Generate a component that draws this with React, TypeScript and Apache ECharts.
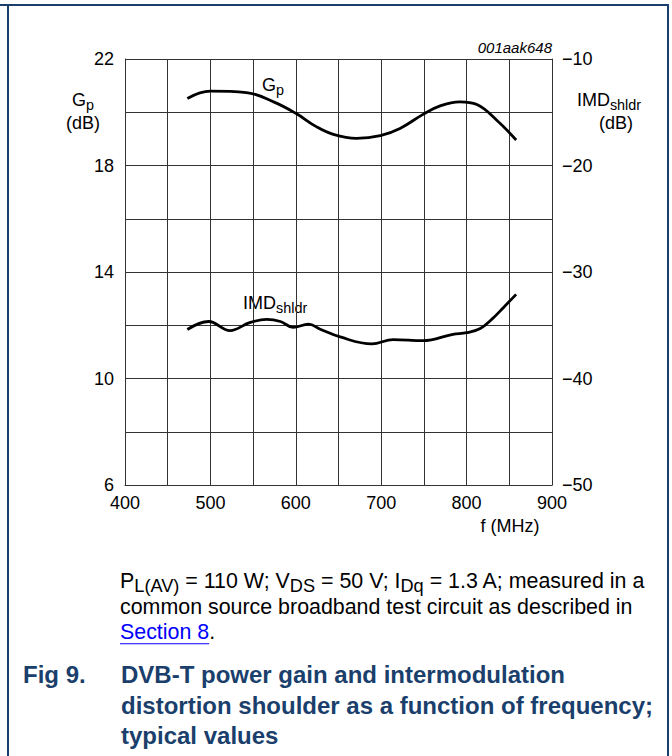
import React, { useEffect, useRef } from 'react';
import * as echarts from 'echarts';

// Gp (dB), left axis
const freqGp = [473, 500, 542, 574, 600, 624, 644, 671, 699, 722, 749, 769, 792, 812, 835, 858];
const gainGp = [20.52, 20.79, 20.74, 20.39, 19.96, 19.46, 19.17, 19.02, 19.12, 19.39, 19.92, 20.24, 20.39, 20.29, 19.71, 18.96];
// IMDshldr (dB), right axis
const freqImd = [473, 498, 523, 546, 566, 582, 597, 615, 628, 652, 689, 714, 749, 784, 800, 816, 830, 843, 858];
const imdVal = [-35.4, -34.65, -35.5, -34.75, -34.45, -34.65, -35.2, -34.9, -35.35, -36.1, -36.75, -36.35, -36.45, -35.85, -35.7, -35.3, -34.4, -33.35, -32.1];

const xTicks = [400, 500, 600, 700, 800, 900];
const leftTicks = [6, 10, 14, 18, 22];
const rightTicks = [-50, -40, -30, -20, -10];

const FONT = 'Liberation Sans';
const NAVY = '#1b3f6c';

type Part = { t: string; sub?: boolean; color?: string; underline?: boolean };

let ctx: CanvasRenderingContext2D | null = null;
function measure(text: string, size: number, weight = 'normal', style = 'normal') {
  if (!ctx) ctx = document.createElement('canvas').getContext('2d');
  ctx!.font = `${style} ${weight} ${size}px "${FONT}"`;
  return ctx!.measureText(text).width;
}

function richLine(
  parts: Part[],
  x: number,
  y: number,
  size: number,
  opts: { weight?: string; color?: string; center?: boolean; subRatio?: number; subShift?: number } = {}
) {
  const weight = opts.weight || 'normal';
  const color = opts.color || '#000';
  const subSize = size * (opts.subRatio || 0.8);
  const subShift = opts.subShift ?? 0.3;
  const widths = parts.map((p) => measure(p.t, p.sub ? subSize : size, weight));
  const total = widths.reduce((a, b) => a + b, 0);
  let cx = opts.center ? x - total / 2 : x;
  const els: any[] = [];
  parts.forEach((p, i) => {
    const fs = p.sub ? subSize : size;
    const py = p.sub ? y + size * subShift : y;
    els.push({
      type: 'text',
      x: cx,
      y: py,
      silent: true,
      style: {
        text: p.t,
        fontSize: fs,
        lineHeight: Math.round(fs * 0.95),
        fontFamily: FONT,
        fontWeight: weight,
        fill: p.color || color,
        align: 'left',
        verticalAlign: 'middle',
      },
    });
    if (p.underline) {
      els.push({
        type: 'line',
        silent: true,
        shape: { x1: cx, y1: y + size * 0.55, x2: cx + widths[i], y2: y + size * 0.55 },
        style: { stroke: p.color || color, lineWidth: 1.2 },
      });
    }
    cx += widths[i];
  });
  return els;
}

export default function App() {
  const ref = useRef<HTMLDivElement>(null);
  useEffect(() => {
    if (!ref.current) return;
    const chart = echarts.init(ref.current, undefined, { renderer: 'svg' });
    const gridColor = '#333333';
    const labelStyle = { color: '#000', fontSize: 18, fontFamily: FONT };

    const graphics: any[] = [
      // frame
      { type: 'line', silent: true, shape: { x1: 0, y1: 5, x2: 669, y2: 5 }, style: { stroke: NAVY, lineWidth: 2 } },
      { type: 'line', silent: true, shape: { x1: 8, y1: 5, x2: 8, y2: 756 }, style: { stroke: NAVY, lineWidth: 2 } },
      { type: 'line', silent: true, shape: { x1: 668, y1: 5, x2: 668, y2: 756 }, style: { stroke: NAVY, lineWidth: 2 } },
      {
        type: 'text', silent: true, x: 552, y: 47,
        style: { text: '001aak648', fontSize: 15, fontStyle: 'italic', fontFamily: FONT, fill: '#000', align: 'right', verticalAlign: 'middle' },
      },
      ...richLine([{ t: 'G' }, { t: 'p', sub: true }], 83, 100, 18, { center: true }),
      ...richLine([{ t: '(dB)' }], 83, 123, 18, { center: true }),
      ...richLine([{ t: 'IMD' }, { t: 'shldr', sub: true }], 609, 100, 18, { center: true }),
      ...richLine([{ t: '(dB)' }], 616, 123, 18, { center: true }),
      ...richLine([{ t: 'f (MHz)' }], 510, 526, 18, { center: true }),
      ...richLine([{ t: 'G' }, { t: 'p', sub: true }], 262, 85, 18),
      ...richLine([{ t: 'IMD' }, { t: 'shldr', sub: true }], 243, 303, 18),
      // caption
      ...richLine(
        [
          { t: 'P' }, { t: 'L(AV)', sub: true }, { t: ' = 110 W; V' }, { t: 'DS', sub: true },
          { t: ' = 50 V; I' }, { t: 'Dq', sub: true }, { t: ' = 1.3 A; measured in a' },
        ],
        120, 581, 21.4, { subRatio: 0.85, subShift: 0.25 }
      ),
      ...richLine([{ t: 'common source broadband test circuit as described in' }], 120, 607, 21.4),
      ...richLine([{ t: 'Section 8', color: '#0000ff', underline: true }, { t: '.' }], 120, 632, 21.4),
      ...richLine([{ t: 'Fig 9.' }], 23, 674, 24, { weight: 'bold', color: NAVY }),
      ...richLine([{ t: 'DVB-T power gain and intermodulation' }], 121, 674, 24, { weight: 'bold', color: NAVY }),
      ...richLine([{ t: 'distortion shoulder as a function of frequency;' }], 121, 705, 24, { weight: 'bold', color: NAVY }),
      ...richLine([{ t: 'typical values' }], 121, 735, 24, { weight: 'bold', color: NAVY }),
    ];

    chart.setOption({
      animation: false,
      backgroundColor: '#fff',
      grid: { left: 125, top: 59, width: 427, height: 426, containLabel: false },
      xAxis: {
        type: 'value',
        min: 400,
        max: 900,
        interval: 50,
        axisLine: { show: true, lineStyle: { color: gridColor, width: 1 } },
        axisTick: { show: false },
        splitLine: { show: true, lineStyle: { color: gridColor, width: 1 } },
        axisLabel: {
          ...labelStyle,
          margin: 9,
          formatter: (v: number) => (xTicks.includes(v) ? String(v) : ''),
        },
      },
      yAxis: [
        {
          type: 'value',
          min: 6,
          max: 22,
          interval: 2,
          position: 'left',
          axisLine: { show: true, lineStyle: { color: gridColor, width: 1 } },
          axisTick: { show: false },
          splitLine: { show: true, lineStyle: { color: gridColor, width: 1 } },
          axisLabel: {
            ...labelStyle,
            margin: 11,
            formatter: (v: number) => (leftTicks.includes(v) ? String(v) : ''),
          },
        },
        {
          type: 'value',
          min: -50,
          max: -10,
          interval: 5,
          position: 'right',
          axisLine: { show: true, lineStyle: { color: gridColor, width: 1 } },
          axisTick: { show: false },
          splitLine: { show: false },
          axisLabel: {
            ...labelStyle,
            margin: 10,
            formatter: (v: number) => (rightTicks.includes(v) ? '\u2212' + Math.abs(v) : ''),
          },
        },
      ],
      series: [
        {
          type: 'line',
          yAxisIndex: 0,
          data: freqGp.map((f, i) => [f, gainGp[i]]),
          smooth: 0.4,
          symbol: 'none',
          lineStyle: { color: '#000', width: 2.8 },
          silent: true,
        },
        {
          type: 'line',
          yAxisIndex: 1,
          data: freqImd.map((f, i) => [f, imdVal[i]]),
          smooth: 0.4,
          symbol: 'none',
          lineStyle: { color: '#000', width: 2.8 },
          silent: true,
        },
      ],
      graphic: graphics,
    });
    return () => chart.dispose();
  }, []);
  return (
    <div
      ref={ref}
      style={{ position: 'fixed', left: 0, top: 0, width: 672, height: 756, background: '#fff' }}
    />
  );
}
